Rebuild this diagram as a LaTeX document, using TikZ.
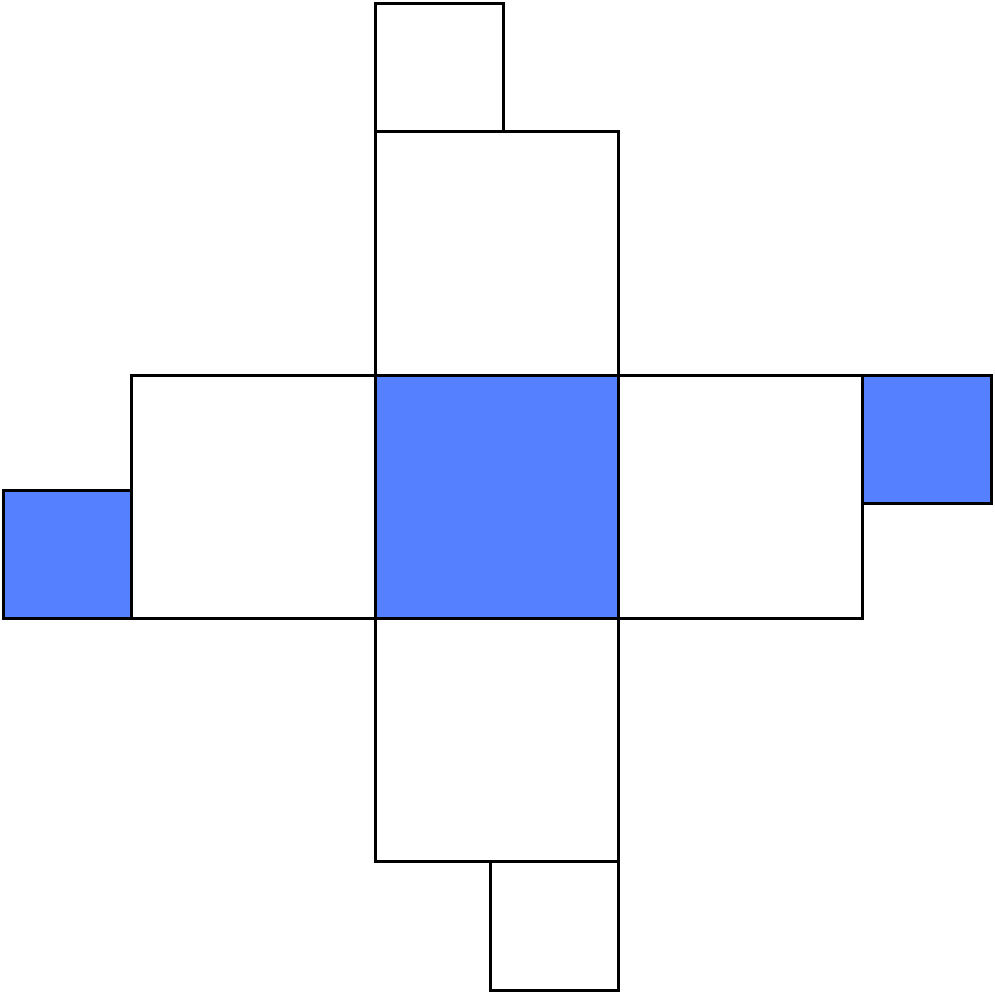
\documentclass[tikz,border=0pt]{standalone}
\definecolor{fillblue}{HTML}{5580FF}
\begin{document}
\begin{tikzpicture}[x=1pt,y=-1pt,
  cell/.style={draw=black,line width=3pt,fill=white},
  bluecell/.style={draw=black,line width=3pt,fill=fillblue}]
\useasboundingbox (0,0) rectangle (994,994);
\draw[cell] (375,3) rectangle (503,131);
\draw[cell] (375,131) rectangle (618,375);
\draw[cell] (131,375) rectangle (375,618);
\draw[cell] (618,375) rectangle (862,618);
\draw[cell] (375,618) rectangle (618,861);
\draw[cell] (490,861) rectangle (618,990);
\draw[bluecell] (375,375) rectangle (618,618);
\draw[bluecell] (3,490) rectangle (131,618);
\draw[bluecell] (862,375) rectangle (991,503);
\end{tikzpicture}
\end{document}
